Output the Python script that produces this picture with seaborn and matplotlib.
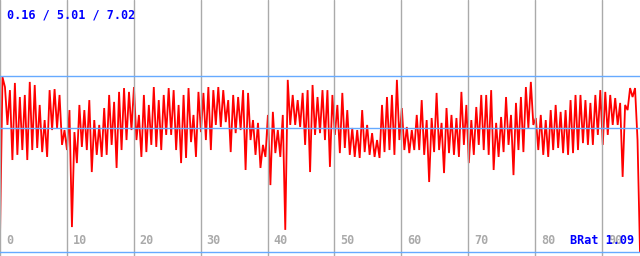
import numpy as np
import pandas as pd
import matplotlib
matplotlib.use("Agg")
import matplotlib.pyplot as plt
import seaborn as sns

# ---- data ----
start_vals = [0.74, 6.99]
hi_vals = [6.60, 6.48, 6.76, 6.21, 6.29, 6.80, 6.68, 5.90, 5.31, 6.48,
           6.52, 6.29, 4.92, 5.70, 4.84, 5.90, 5.70, 6.09, 5.31, 5.12,
           5.78, 6.29, 6.02, 6.41, 6.56, 6.41, 6.60, 5.51, 6.29, 5.90,
           6.60, 6.09, 6.29, 6.56, 6.48, 5.90, 6.29, 6.56, 5.51, 6.41,
           6.37, 6.60, 6.48, 6.60, 6.48, 6.09, 6.29, 6.21, 6.48, 6.37,
           5.31, 5.20, 4.34, 5.51, 5.63, 4.92, 5.51, 6.88, 6.29, 6.09,
           6.37, 6.48, 6.68, 6.21, 6.48, 6.48, 6.29, 5.90, 6.37, 5.70,
           5.00, 4.92, 5.70, 5.12, 4.80, 4.53, 5.90, 6.21, 6.29, 6.88,
           5.78, 5.04, 4.92, 5.51, 6.09, 5.31, 5.39, 6.37, 5.20, 5.78,
           5.51, 5.39, 6.41, 5.90, 5.31, 5.82, 6.29, 6.29, 6.48, 5.20,
           5.43, 6.21, 5.51, 5.98, 6.21, 6.60, 6.80, 5.39, 5.51, 5.31,
           5.70, 5.90, 5.63, 5.70, 6.09, 6.29, 6.29, 6.09, 5.98, 6.29,
           6.48, 6.41, 6.29, 6.17, 5.98, 5.90, 6.56, 6.56]
lo_vals = [5.12, 3.75, 3.95, 4.14, 3.75, 4.14, 4.22, 4.06, 3.87, 4.92,
           5.00, 4.34, 4.14, 1.13, 3.63, 4.26, 4.14, 3.28, 3.95, 3.87,
           3.95, 4.34, 3.44, 4.14, 4.53, 4.92, 4.53, 3.87, 4.06, 4.34,
           4.26, 4.14, 4.73, 4.73, 4.14, 3.63, 3.83, 4.45, 3.87, 4.84,
           4.53, 4.14, 5.12, 5.04, 5.23, 4.06, 4.80, 4.92, 3.36, 4.53,
           3.95, 3.44, 3.87, 2.77, 4.02, 3.87, 1.02, 5.12, 5.12, 5.04,
           4.34, 3.28, 4.73, 4.80, 4.53, 3.48, 4.73, 4.02, 4.22, 3.95,
           3.87, 3.83, 4.06, 3.95, 3.87, 3.83, 4.06, 4.14, 3.95, 4.53,
           4.14, 4.02, 4.14, 4.14, 3.95, 2.89, 4.06, 4.14, 3.24, 4.02,
           3.95, 3.87, 4.34, 3.63, 3.95, 4.34, 4.14, 3.95, 3.36, 3.87,
           4.06, 4.34, 3.16, 4.14, 4.06, 5.00, 5.12, 4.14, 3.95, 3.87,
           4.14, 4.22, 4.02, 3.95, 4.02, 4.14, 4.41, 4.34, 4.34, 4.73,
           4.34, 4.73, 5.12, 5.12, 3.09, 5.70, 6.21, 4.53]
end_vals = [0.16]

stat_min, stat_avg, stat_max = 0.16, 5.01, 7.02
brat = 1.09
x_ticks = [0, 10, 20, 30, 40, 50, 60, 70, 80, 90]
x_max = 95.7

series = list(start_vals)
for h, l in zip(hi_vals, lo_vals):
    series += [h, l]
series += end_vals
df = pd.DataFrame({"t": np.linspace(0, x_max, len(series)), "v": series})

# ---- figure ----
sns.set_style("white")
fig = plt.figure(figsize=(6.4, 2.56), dpi=100)
ax = fig.add_axes([0, 0, 1, 1])
sns.lineplot(data=df, x="t", y="v", color="#ff0000", linewidth=1.3,
             estimator=None, sort=False, ax=ax, zorder=2,
             solid_joinstyle="miter")
ax.set_xlim(0, x_max)
ax.set_ylim(0, 10)
for s in ax.spines.values():
    s.set_visible(False)
ax.set_xticks([]); ax.set_yticks([])
ax.set_xlabel(""); ax.set_ylabel("")

for xv in x_ticks:
    ax.axvline(xv, color="#aaaaaa", linewidth=1.0, zorder=3)
for yv in (stat_min, stat_avg, stat_max):
    ax.axhline(yv, color="#66aaff", linewidth=1.0, zorder=3)

mono = dict(family="DejaVu Sans Mono", weight="bold", size=8.5)
trans = ax.get_xaxis_transform()
for xv in x_ticks:
    ax.annotate(str(xv), xy=(xv, 0), xycoords=trans, xytext=(6, 15),
                textcoords="offset pixels", ha="left", va="center",
                color="#aaaaaa", zorder=4, **mono)

ax.text(7, 241, f"{stat_min:.2f} / {stat_avg:.2f} / {stat_max:.2f}",
        transform=None, color="#0000ff", ha="left", va="center", zorder=5, **mono)
ax.annotate(f"BRat {brat:.2f}", xy=(1, 0), xycoords="axes fraction",
            xytext=(-6, 15), textcoords="offset pixels", ha="right",
            va="center", color="#0000ff", zorder=5, **mono)

fig.savefig("out.png", dpi=100)
